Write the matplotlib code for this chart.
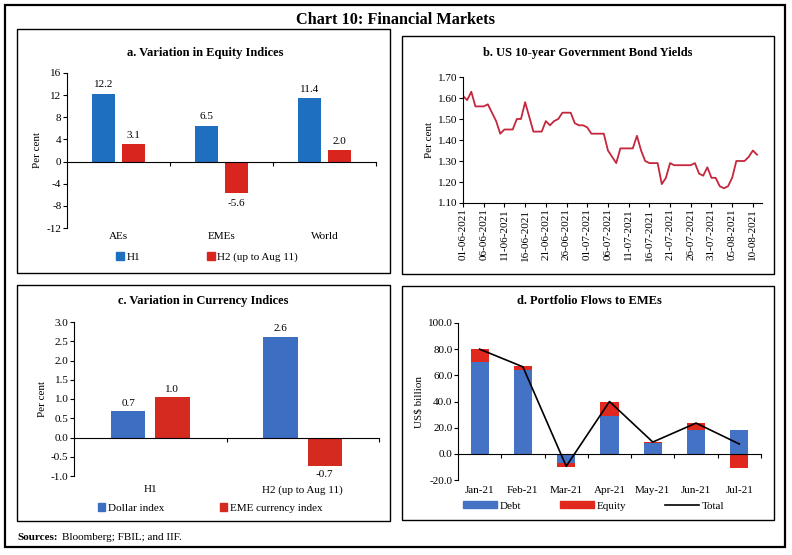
import numpy as np
import pandas as pd
import matplotlib
matplotlib.use("Agg")
import matplotlib.pyplot as plt
from matplotlib.patches import Rectangle, Patch
from matplotlib.lines import Line2D

plt.rcParams["font.family"] = ["Liberation Serif", "DejaVu Serif"]
plt.rcParams["axes.unicode_minus"] = False

# ---- data ----
# a. equity indices
eq_cats = ["AEs", "EMEs", "World"]
eq_h1 = [12.2, 6.5, 11.4]
eq_h2 = [3.1, -5.6, 2.0]

# b. US 10-year yields, daily 01-06-2021 .. 11-08-2021
yield_start = "2021-06-01"
us10y = [1.61, 1.59, 1.63, 1.56, 1.56, 1.56, 1.57, 1.53, 1.49, 1.43,
         1.45, 1.45, 1.45, 1.50, 1.50, 1.58, 1.51, 1.44, 1.44, 1.44,
         1.49, 1.47, 1.49, 1.50, 1.53, 1.53, 1.53, 1.48, 1.47, 1.47,
         1.46, 1.43, 1.43, 1.43, 1.43, 1.35, 1.32, 1.29, 1.36, 1.36,
         1.36, 1.36, 1.42, 1.35, 1.30, 1.29, 1.29, 1.29, 1.19, 1.22,
         1.29, 1.28, 1.28, 1.28, 1.28, 1.28, 1.29, 1.24, 1.23, 1.27,
         1.22, 1.22, 1.18, 1.17, 1.18, 1.22, 1.30, 1.30, 1.30, 1.32,
         1.35, 1.33]

# c. currency indices
cur_cats = ["H1", "H2 (up to Aug 11)"]
dollar_idx = [0.68, 2.62]
eme_cur_idx = [1.04, -0.73]

# d. portfolio flows
months = ["Jan-21", "Feb-21", "Mar-21", "Apr-21", "May-21", "Jun-21", "Jul-21"]
debt = [70.0, 64.0, -7.0, 29.0, 8.0, 18.0, 18.0]
equity = [10.5, 3.0, -3.0, 11.0, 1.0, 5.5, -10.7]
total = [80.0, 66.5, -9.5, 40.0, 9.0, 23.5, 7.5]

W, H = 792, 555
FS = 8
fig = plt.figure(figsize=(W / 100, H / 100), dpi=100)


def px_rect(l, t, r, b):
    return [l / W, 1 - b / H, (r - l) / W, (b - t) / H]


def frame(l, t, r, b, lw=1.0):
    fig.add_artist(Rectangle((l / W, 1 - b / H), (r - l) / W, (b - t) / H,
                             transform=fig.transFigure, fill=False,
                             edgecolor="black", linewidth=lw))


def ftext(x, y, s, **kw):
    fig.text(x / W, 1 - y / H, s, **kw)


def style_axis(ax):
    for s in ["top", "right"]:
        ax.spines[s].set_visible(False)
    ax.spines["left"].set_linewidth(0.8)
    ax.spines["bottom"].set_linewidth(0.8)
    ax.tick_params(labelsize=FS, length=3, width=0.8, direction="out", pad=1)


# frames and titles
frame(5, 5, 785, 547, lw=1.6)
frame(17, 29, 390, 273)
frame(402, 36, 774, 274)
frame(17, 285, 390, 521)
frame(402, 286, 774, 520)
ftext(396, 20, "Chart 10: Financial Markets", ha="center", va="center",
      fontsize=11.7, fontweight="bold")
ftext(205, 53, "a. Variation in Equity Indices", ha="center", va="center",
      fontsize=9, fontweight="bold")
ftext(588, 53, "b. US 10-year Government Bond Yields", ha="center", va="center",
      fontsize=9, fontweight="bold")
ftext(203, 301, "c. Variation in Currency Indices", ha="center", va="center",
      fontsize=9, fontweight="bold")
ftext(589, 301, "d. Portfolio Flows to EMEs", ha="center", va="center",
      fontsize=9, fontweight="bold")
ftext(17, 537, "Sources:", ha="left", va="center", fontsize=FS, fontweight="bold")
ftext(62, 537, "Bloomberg; FBIL; and IIF.", ha="left", va="center", fontsize=FS)

# ---- a ----
blue_a, red_a = "#1f6fc0", "#d8261e"
ax = fig.add_axes(px_rect(67, 73, 376, 228))
x = np.arange(len(eq_cats))
bw = 0.225
b1 = ax.bar(x - 0.145, eq_h1, bw, color=blue_a)
b2 = ax.bar(x + 0.145, eq_h2, bw, color=red_a)
for bars in (b1, b2):
    for r in bars:
        v = r.get_height()
        off = 1.7 if v >= 0 else -1.9
        ax.text(r.get_x() + r.get_width() / 2, v + off, f"{v:.1f}",
                ha="center", va="center", fontsize=FS)
ax.set_ylim(-12, 16)
ax.set_yticks(np.arange(-12, 17, 4))
ax.set_xlim(-0.5, 2.5)
style_axis(ax)
ax.spines["bottom"].set_position(("data", 0))
ax.set_xticks([0.5, 1.5, 2.5])
ax.set_xticklabels([])
for i, c in enumerate(eq_cats):
    ax.text(i, -0.058, c, transform=ax.get_xaxis_transform(),
            ha="center", va="center", fontsize=FS)
ax.set_ylabel("Per cent", fontsize=FS, labelpad=3)
fig.legend(handles=[Patch(color=blue_a, label="H1"),
                    Patch(color=red_a, label="H2 (up to Aug 11)")],
           loc="center", bbox_to_anchor=(207 / W, 1 - 257 / H), ncol=2,
           frameon=False, fontsize=FS, handlelength=0.7, handleheight=0.7,
           handletextpad=0.2, columnspacing=6.0)

# ---- b ----
ax = fig.add_axes(px_rect(463, 77, 762, 203))
days = pd.date_range(yield_start, periods=len(us10y), freq="D")
xd = np.arange(len(us10y))
ax.plot(xd, us10y, color="#c4263c", linewidth=1.3)
ax.set_ylim(1.10, 1.70)
ax.set_yticks(np.arange(1.10, 1.71, 0.10))
ax.set_yticklabels([f"{v:.2f}" for v in np.arange(1.10, 1.71, 0.10)])
ax.set_xlim(0, 72.2)
ticks = xd[::5]
ax.set_xticks(ticks)
ax.set_xticklabels([days[i].strftime("%d-%m-%Y") for i in ticks], rotation=90)
style_axis(ax)
ax.set_ylabel("Per cent", fontsize=FS, labelpad=3)

# ---- c ----
blue_c, red_c = "#3c6fc2", "#d42a1f"
ax = fig.add_axes(px_rect(74, 322, 379, 476))
x = np.arange(len(cur_cats))
bw = 0.225
b1 = ax.bar(x - 0.145, dollar_idx, bw, color=blue_c)
b2 = ax.bar(x + 0.145, eme_cur_idx, bw, color=red_c)
for bars in (b1, b2):
    for r in bars:
        v = r.get_height()
        off = 0.2 if v >= 0 else -0.24
        ax.text(r.get_x() + r.get_width() / 2, v + off, f"{v:.1f}",
                ha="center", va="center", fontsize=FS)
ax.set_ylim(-1, 3)
ax.set_yticks(np.arange(-1, 3.01, 0.5))
ax.set_yticklabels([f"{v:.1f}" for v in np.arange(-1, 3.01, 0.5)])
ax.set_xlim(-0.5, 1.5)
style_axis(ax)
ax.spines["bottom"].set_position(("data", 0))
ax.set_xticks([0.5, 1.5])
ax.set_xticklabels([])
for i, c in enumerate(cur_cats):
    ax.text(i, -0.09, c, transform=ax.get_xaxis_transform(),
            ha="center", va="center", fontsize=FS)
ax.set_ylabel("Per cent", fontsize=FS, labelpad=3)
fig.legend(handles=[Patch(color=blue_c, label="Dollar index"),
                    Patch(color=red_c, label="EME currency index")],
           loc="center", bbox_to_anchor=(210 / W, 1 - 508 / H), ncol=2,
           frameon=False, fontsize=FS, handlelength=0.7, handleheight=0.7,
           handletextpad=0.2, columnspacing=5.0)

# ---- d ----
blue_d, red_d = "#4472c4", "#e0281e"
ax = fig.add_axes(px_rect(458, 323, 761, 480))
x = np.arange(len(months))
debt_a = np.array(debt)
eq_a = np.array(equity)
eq_bottom = np.where(debt_a * eq_a > 0, debt_a, 0)
ax.bar(x, debt_a, 0.42, color=blue_d)
ax.bar(x, eq_a, 0.42, bottom=eq_bottom, color=red_d)
ax.plot(x, total, color="black", linewidth=1.2)
ax.set_ylim(-20, 100)
ax.set_yticks(np.arange(-20, 101, 20))
ax.set_yticklabels([f"{v:.1f}" for v in np.arange(-20, 101, 20)])
ax.set_xlim(-0.5, 6.5)
style_axis(ax)
ax.spines["bottom"].set_position(("data", 0))
ax.set_xticks(np.arange(0.5, 7, 1))
ax.set_xticklabels([])
for i, c in enumerate(months):
    ax.text(i, -0.064, c, transform=ax.get_xaxis_transform(),
            ha="center", va="center", fontsize=FS)
ax.set_ylabel("US$ billion", fontsize=FS, labelpad=3)
fig.legend(handles=[Patch(color=blue_d, label="Debt"),
                    Patch(color=red_d, label="Equity"),
                    Line2D([], [], color="black", linewidth=1.2, label="Total")],
           loc="center", bbox_to_anchor=(594 / W, 1 - 506 / H), ncol=3,
           frameon=False, fontsize=FS, handlelength=3.0, handleheight=0.6,
           handletextpad=0.3, columnspacing=3.5)

fig.savefig("out.png", dpi=100)
